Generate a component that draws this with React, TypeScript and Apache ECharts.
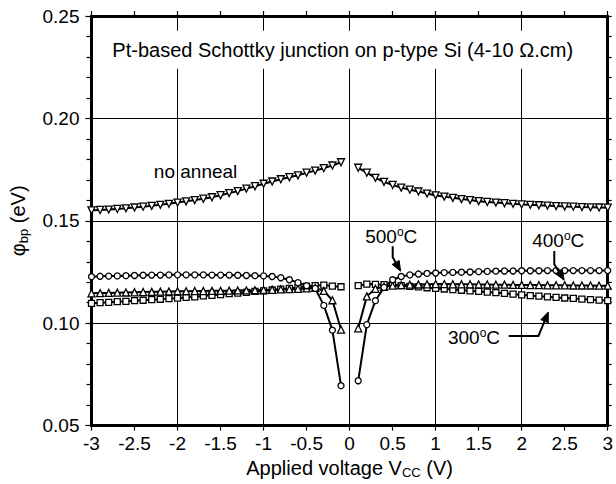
import React, { useEffect, useRef } from 'react';
import * as echarts from 'echarts';

const vNeg = [-3.0, -2.9, -2.8, -2.7, -2.6, -2.5, -2.4, -2.3, -2.2, -2.1, -2.0, -1.9, -1.8, -1.7, -1.6, -1.5, -1.4, -1.3, -1.2, -1.1, -1.0, -0.9, -0.8, -0.7, -0.6, -0.5, -0.4, -0.3, -0.2, -0.1];
const vPos = [0.1, 0.2, 0.3, 0.4, 0.5, 0.6, 0.7, 0.8, 0.9, 1.0, 1.1, 1.2, 1.3, 1.4, 1.5, 1.6, 1.7, 1.8, 1.9, 2.0, 2.1, 2.2, 2.3, 2.4, 2.5, 2.6, 2.7, 2.8, 2.9, 3.0];

const noAnnealNeg = [0.1551, 0.1553, 0.1555, 0.1558, 0.1561, 0.1565, 0.1569, 0.1573, 0.1578, 0.1583, 0.1589, 0.1595, 0.1601, 0.1608, 0.1615, 0.1625, 0.1635, 0.1645, 0.1657, 0.1669, 0.1681, 0.1692, 0.1703, 0.1713, 0.1722, 0.1735, 0.1745, 0.1757, 0.1770, 0.1786];
const noAnnealPos = [0.1759, 0.1735, 0.1710, 0.1690, 0.1675, 0.1662, 0.1652, 0.1643, 0.1633, 0.1624, 0.1618, 0.1612, 0.1606, 0.1601, 0.1596, 0.1592, 0.1589, 0.1586, 0.1583, 0.1580, 0.1578, 0.1576, 0.1574, 0.1572, 0.1570, 0.1569, 0.1567, 0.1566, 0.1565, 0.1564];

const c500Neg = [0.1227, 0.1229, 0.1230, 0.1231, 0.1232, 0.1233, 0.1234, 0.1235, 0.1235, 0.1236, 0.1236, 0.1236, 0.1236, 0.1236, 0.1235, 0.1235, 0.1235, 0.1234, 0.1233, 0.1232, 0.1231, 0.1228, 0.1222, 0.1212, 0.1198, 0.1183, 0.1170, 0.1087, 0.0966, 0.0695];
const c500Pos = [0.0719, 0.0993, 0.1110, 0.1175, 0.1212, 0.1228, 0.1236, 0.1240, 0.1243, 0.1245, 0.1247, 0.1248, 0.1249, 0.1250, 0.1252, 0.1253, 0.1254, 0.1255, 0.1255, 0.1256, 0.1256, 0.1256, 0.1257, 0.1257, 0.1257, 0.1257, 0.1257, 0.1257, 0.1257, 0.1257];

const t400Neg = [0.1146, 0.1147, 0.1148, 0.1149, 0.1150, 0.1151, 0.1152, 0.1153, 0.1154, 0.1155, 0.1156, 0.1156, 0.1157, 0.1157, 0.1158, 0.1158, 0.1159, 0.1160, 0.1160, 0.1161, 0.1162, 0.1163, 0.1165, 0.1166, 0.1168, 0.1170, 0.1172, 0.1158, 0.1112, 0.0969];
const t400Pos = [0.0975, 0.1131, 0.1168, 0.1178, 0.1183, 0.1186, 0.1188, 0.1189, 0.1190, 0.1191, 0.1191, 0.1190, 0.1190, 0.1190, 0.1189, 0.1189, 0.1188, 0.1188, 0.1187, 0.1187, 0.1186, 0.1186, 0.1185, 0.1185, 0.1185, 0.1184, 0.1184, 0.1184, 0.1183, 0.1183];

const s300Neg = [0.1097, 0.1100, 0.1102, 0.1105, 0.1107, 0.1110, 0.1112, 0.1115, 0.1117, 0.1120, 0.1122, 0.1126, 0.1129, 0.1133, 0.1136, 0.1140, 0.1144, 0.1147, 0.1151, 0.1155, 0.1158, 0.1162, 0.1166, 0.1170, 0.1175, 0.1180, 0.1183, 0.1186, 0.1181, 0.1178];
const s300Pos = [0.1183, 0.1191, 0.1190, 0.1188, 0.1186, 0.1183, 0.1180, 0.1177, 0.1173, 0.1170, 0.1167, 0.1164, 0.1161, 0.1158, 0.1155, 0.1152, 0.1149, 0.1146, 0.1142, 0.1138, 0.1135, 0.1132, 0.1129, 0.1126, 0.1123, 0.1121, 0.1118, 0.1115, 0.1113, 0.1110];

const titleText = 'Pt-based Schottky junction on p-type Si (4-10 Ω.cm)';
const titlePos = [-0.08, 0.2335];

const annoLabels = ['no anneal', '500{sup|o}C', '400{sup|o}C', '300{sup|o}C'];
const annoX = [-1.79, 0.484, 2.425, 1.446];
const annoY = [0.1743, 0.1425, 0.1405, 0.0931];

const arrow500 = [[0.501, 0.1376], [0.501, 0.1322], [0.593, 0.1254]];
const arrow400 = [[2.379, 0.1352], [2.379, 0.1288], [2.494, 0.121]];
const arrow300 = [[1.849, 0.0938], [2.195, 0.0938], [2.31, 0.1055]];

const FONT = '"Liberation Sans", Arial, Helvetica, sans-serif';

function pairs(xs: number[], ys: number[]) {
  return xs.map((x, i) => [x, ys[i]]);
}

function lineSeries(name: string, data: number[][], symbol: string, size: number, rotate = 0) {
  return {
    type: 'line',
    name,
    data,
    xAxisIndex: 0,
    yAxisIndex: 0,
    symbol,
    symbolSize: size,
    symbolRotate: rotate,
    showSymbol: true,
    silent: true,
    lineStyle: { color: '#000', width: 2 },
    itemStyle: { color: '#fff', borderColor: '#000', borderWidth: 1.3 },
    z: 3,
  };
}

export default function App() {
  const ref = useRef<HTMLDivElement>(null);
  useEffect(() => {
    const chart = echarts.init(ref.current!, null, { renderer: 'svg', width: 616, height: 484 });
    const axisLine = { show: true, onZero: false, lineStyle: { color: '#000', width: 3 } };
    const tickStyle = { color: '#000', width: 1.2 };
    const nameStyle = {
      fontSize: 20,
      fontFamily: FONT,
      color: '#000',
      rich: { sub: { fontSize: 13, fontFamily: FONT, color: '#000', padding: [10, 0, 0, 0] } },
    };
    chart.setOption({
      animation: false,
      backgroundColor: '#fff',
      grid: { left: 89, right: 6, top: 16, bottom: 57, containLabel: false },
      xAxis: [
        {
          type: 'value', position: 'bottom', min: -3, max: 3, interval: 0.5,
          axisLine, axisTick: { show: true, inside: false, length: 5, lineStyle: tickStyle },
          axisLabel: { color: '#000', fontSize: 19, fontFamily: FONT, margin: 8 },
          splitLine: { show: false },
          name: 'Applied voltage V{sub|CC} (V)', nameLocation: 'middle', nameGap: 25, nameTextStyle: nameStyle,
        },
        {
          type: 'value', position: 'top', min: -3, max: 3, interval: 1,
          axisLine, axisTick: { show: true, inside: false, length: 5, lineStyle: tickStyle },
          minorTick: { show: true, splitNumber: 2, length: 5, lineStyle: tickStyle },
          axisLabel: { show: false },
          splitLine: { show: true, lineStyle: { color: '#000', width: 1 } },
        },
      ],
      yAxis: [
        {
          type: 'value', position: 'left', min: 0.05, max: 0.25, interval: 0.05,
          axisLine, axisTick: { show: true, inside: false, length: 6, lineStyle: tickStyle },
          minorTick: { show: true, splitNumber: 5, length: 5, lineStyle: tickStyle },
          axisLabel: { color: '#000', fontSize: 19, fontFamily: FONT, margin: 12, formatter: (v: number) => v.toFixed(2) },
          splitLine: { show: true, lineStyle: { color: '#000', width: 1 } },
          name: 'φ{sub|bp} (eV)', nameLocation: 'middle', nameGap: 62, nameRotate: 90, nameTextStyle: nameStyle,
        },
        {
          type: 'value', position: 'right', min: 0.05, max: 0.25, interval: 0.05,
          axisLine, axisTick: { show: true, inside: false, length: 4, lineStyle: tickStyle },
          minorTick: { show: true, splitNumber: 5, length: 4, lineStyle: tickStyle },
          axisLabel: { show: false },
          splitLine: { show: false },
        },
      ],
      series: [
        lineSeries('no anneal', pairs(vNeg, noAnnealNeg), 'triangle', 7, 180),
        lineSeries('no anneal', pairs(vPos, noAnnealPos), 'triangle', 7, 180),
        lineSeries('300°C', pairs(vNeg, s300Neg), 'rect', 6),
        lineSeries('300°C', pairs(vPos, s300Pos), 'rect', 6),
        lineSeries('400°C', pairs(vNeg, t400Neg), 'triangle', 7),
        lineSeries('400°C', pairs(vPos, t400Pos), 'triangle', 7),
        lineSeries('500°C', pairs(vNeg, c500Neg), 'circle', 6),
        lineSeries('500°C', pairs(vPos, c500Pos), 'circle', 6),
      ],
    });

    const P = (p: number[]) => chart.convertToPixel({ xAxisIndex: 0, yAxisIndex: 0 }, p) as number[];
    const graphics: any[] = [];
    const tp = P(titlePos);
    graphics.push({
      type: 'text', x: tp[0], y: tp[1], z: 50,
      style: {
        text: titleText, align: 'center', verticalAlign: 'middle', fill: '#000',
        font: `20px ${FONT}`, backgroundColor: '#fff', padding: [9, 6],
      },
    });
    annoLabels.forEach((t, i) => {
      const p = P([annoX[i], annoY[i]]);
      graphics.push({
        type: 'text', x: p[0], y: p[1], z: 50,
        style: {
          text: t, align: 'center', verticalAlign: 'middle', fill: '#000', font: `19px ${FONT}`,
          rich: { sup: { fontSize: 12, fontFamily: FONT, fill: '#000', padding: [0, 0, 9, 0] } },
        },
      });
    });
    [arrow500, arrow400, arrow300].forEach((arr) => {
      const pts = arr.map(P);
      const tip = pts[pts.length - 1];
      const prev = pts[pts.length - 2];
      const dx = tip[0] - prev[0];
      const dy = tip[1] - prev[1];
      const len = Math.sqrt(dx * dx + dy * dy);
      const ux = dx / len, uy = dy / len;
      const L = 10, W = 4;
      const bx = tip[0] - ux * L, by = tip[1] - uy * L;
      const lineEnd = [tip[0] - ux * (L - 2), tip[1] - uy * (L - 2)];
      graphics.push({
        type: 'polyline', z: 50,
        shape: { points: [...pts.slice(0, -1), lineEnd] },
        style: { stroke: '#000', lineWidth: 2, fill: null },
      });
      graphics.push({
        type: 'polygon', z: 50,
        shape: { points: [tip, [bx - uy * W, by + ux * W], [bx + uy * W, by - ux * W]] },
        style: { fill: '#000', stroke: '#000', lineWidth: 1 },
      });
    });
    chart.setOption({ graphic: graphics });
    return () => chart.dispose();
  }, []);
  return <div ref={ref} style={{ position: 'fixed', left: 0, top: 0, width: 616, height: 484 }} />;
}
